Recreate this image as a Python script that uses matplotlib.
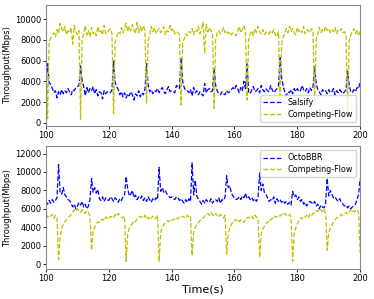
import numpy as np
import matplotlib
matplotlib.use('Agg')
import matplotlib.pyplot as plt

# sampled every 0.5 s from 100 s to 200 s (10 values per row = 5 s)
salsify = [
    3500, 5700, 3900, 3700, 3300, 2900, 3100, 2400, 3000, 2700,
    3200, 2800, 3100, 2900, 3300, 3000, 2700, 3200, 3100, 3400,
    3500, 3600, 5500, 4100, 3500, 2600, 3400, 2900, 3300, 3100,
    3500, 2800, 3200, 2600, 3000, 2900, 2300, 3100, 2800, 3000,
    3000, 2900, 3200, 6000, 3900, 3500, 3200, 2700, 3000, 2500,
    2900, 2400, 2800, 2600, 3000, 2700, 2200, 2800, 2600, 3100,
    2500, 2900, 2700, 3300, 5700, 3700, 3000, 3200, 2800, 3100,
    3000, 3300, 2900, 3200, 3400, 3000, 2800, 3200, 3500, 3000,
    3100, 3000, 2900, 3600, 3500, 3300, 6300, 4000, 3400, 3100,
    3100, 2900, 3200, 2600, 3400, 2900, 3100, 2700, 3000, 2800,
    2600, 3800, 2900, 3200, 3300, 3000, 3100, 5300, 3600, 3100,
    2800, 2700, 3000, 2800, 2700, 3100, 2900, 3000, 3200, 3400,
    3200, 3600, 3300, 2900, 3400, 3100, 4000, 3300, 5700, 3000,
    2800, 3200, 3500, 3000, 3100, 3300, 2900, 3600, 3200, 3000,
    3300, 3100, 3000, 3600, 3200, 2900, 3100, 3300, 3500, 6300,
    4400, 3500, 3000, 2600, 3000, 2900, 3200, 2800, 3300, 3000,
    3300, 3000, 3100, 3600, 3200, 3000, 3300, 2900, 3400, 3100,
    3500, 5400, 3800, 3200, 3000, 2700, 3200, 3000, 3100, 2800,
    3200, 2900, 3000, 3300, 2700, 3100, 2900, 3200, 3000, 2800,
    3000, 3200, 5000, 3700, 3000, 2900, 3200, 3000, 3400, 3300,
    4000]

competing_top = [
    7600, 400, 7800, 8200, 8400, 8700, 8300, 9000, 8600, 9600,
    9100, 8800, 9300, 8500, 8900, 8700, 9200, 7600, 9400, 8800,
    8500, 8900, 300, 8000, 8600, 9400, 8500, 8900, 8300, 9200,
    8600, 8800, 8400, 9300, 8700, 8900, 8500, 9400, 8600, 8800,
    8900, 9100, 8600, 900, 7700, 8400, 8800, 8600, 9200, 8700,
    9000, 9600, 8800, 9300, 8900, 9500, 9000, 8600, 9700, 8700,
    9300, 8800, 9400, 8900, 1900, 7900, 8400, 9300, 8800, 9200,
    8600, 8900, 9100, 8700, 9000, 9300, 8500, 8900, 8800, 9400,
    8900, 9100, 8600, 8800, 8700, 8500, 1700, 7800, 8100, 8600,
    8400, 8800, 8700, 9100, 8500, 9000, 8800, 9300, 8600, 9000,
    9700, 6700, 9500, 8800, 9200, 8900, 8700, 1400, 8000, 8700,
    8900, 8600, 8800, 9200, 8700, 8900, 8600, 8800, 8500, 8700,
    8600, 8400, 8800, 9300, 8700, 9000, 9400, 8800, 2200, 8000,
    8600, 8900, 8400, 9100, 8700, 9300, 8800, 8600, 9000, 8500,
    8700, 8800, 8600, 8900, 8700, 9000, 8500, 8300, 8800, 2600,
    7600, 8300, 8600, 9100, 8700, 9300, 8800, 9100, 8700, 8500,
    9200, 8800, 9000, 8700, 9300, 8600, 9000, 8900, 8700, 9100,
    8800, 1900, 8100, 8600, 9200, 8700, 9000, 8800, 9300, 8900,
    9100, 8700, 9000, 8800, 9200, 8600, 9000, 8900, 9100, 8700,
    8800, 8500, 700, 7900, 8500, 8800, 9100, 8600, 9000, 8400,
    8800]

octobbr = [
    6800, 6500, 6900, 6600, 7000, 6700, 6900, 7200, 10800, 7700,
    7600, 8300, 7500, 7300, 7000, 6900, 6600, 6200, 6500, 6000,
    6300, 6700, 6400, 6800, 6200, 6500, 6000, 6300, 7000, 9300,
    7800, 8300, 7700, 8100, 7100, 6900, 7300, 6800, 7200, 7000,
    6900, 7300, 7100, 6800, 7200, 7000, 6700, 7100, 6900, 7300,
    7500, 9500, 8200, 7400, 7600, 8000, 7200, 7500, 7000, 7300,
    7100, 7400, 6900, 7200, 6800, 7300, 7000, 6700, 7100, 6900,
    7200, 7000, 10500, 7900, 8300, 7800, 8000, 7600, 7400, 7200,
    7300, 7100, 7000, 7300, 7200, 6900, 7100, 6800, 6600, 7000,
    6700, 7100, 6800, 11000, 7500, 9100, 7400, 7000, 6800, 6500,
    6900, 6600, 7000, 6800, 6700, 7100, 6600, 6900, 7000, 6800,
    7200, 6600, 7000, 6900, 7300, 9600, 8300, 8500, 7700, 7400,
    7200, 7000, 7100, 7300, 7000, 7400, 7200, 7700, 7100, 7300,
    7000, 7200, 6900, 7100, 6800, 7300, 9900, 8000, 8700, 7800,
    7600, 7200, 6800, 7000, 6900, 7300, 6600, 7100, 6800, 7000,
    6700, 6900, 6600, 6800, 6500, 6700, 6400, 7900, 7300, 7500,
    7000, 7300, 6800, 7000, 6500, 6700, 6300, 6600, 6800, 6700,
    6500, 6800, 6300, 6500, 6000, 6400, 6200, 6100, 6600, 9300,
    7400, 8000, 7600, 7200, 7300, 7000, 6800, 7100, 6700, 6500,
    6300, 6400, 6100, 6300, 6000, 6200, 6300, 6500, 7000, 7600,
    9300]

competing_bottom = [
    5400, 5100, 5300, 5200, 5400, 5000, 5300, 5100, 500, 2900,
    3800, 4300, 4600, 4800, 5000, 5200, 5400, 5600, 5900, 5700,
    6000, 5800, 5600, 5900, 5700, 5500, 5800, 5600, 5200, 1500,
    3600, 4000, 4300, 4600, 4500, 4800, 4900, 4700, 5100, 5000,
    4900, 5200, 5100, 5000, 5400, 5200, 5500, 5300, 5100, 5000,
    5200, 300, 3200, 3900, 4200, 4400, 4700, 4600, 4900, 5000,
    5200, 5100, 5000, 5300, 4900, 5100, 4800, 5000, 5200, 4900,
    5000, 5300, 300, 3400, 4000, 4300, 4500, 4700, 4600, 4800,
    4700, 4900, 4800, 5000, 4900, 5100, 5000, 5200, 5100, 5000,
    5300, 5100, 5200, 900, 3500, 4000, 4300, 4500, 4700, 4900,
    5000, 5200, 5400, 5500, 5300, 5600, 5400, 5200, 5500, 5300,
    5100, 5400, 5200, 5000, 5300, 1000, 3300, 3900, 4300, 4600,
    4800, 4700, 4900, 4600, 4800, 4700, 4500, 4900, 5000, 5100,
    5000, 5200, 4900, 5300, 5100, 5000, 700, 3300, 3800, 4100,
    4300, 4600, 4500, 4800, 5000, 4900, 5200, 5100, 5300, 5200,
    5400, 5300, 5500, 5300, 5200, 5400, 5100, 300, 3300, 3900,
    4400, 4700, 5000, 4900, 5200, 5100, 5300, 5000, 5400, 5200,
    5500, 5600, 5800, 5700, 6000, 5900, 5700, 6000, 5500, 1500,
    3400, 3900, 4200, 4600, 4800, 5000, 5100, 5200, 5400, 5300,
    5500, 5600, 5400, 5700, 5900, 5600, 5800, 5700, 5900, 5600,
    1200]

time = np.arange(100, 200.25, 0.5)

fig = plt.figure(figsize=(3.74, 2.99), dpi=100)
ax1 = fig.add_axes([0.123, 0.579, 0.840, 0.405])
ax2 = fig.add_axes([0.123, 0.100, 0.840, 0.411])

ax1.plot(time, salsify, '--', color='blue', lw=0.9, label='Salsify')
ax1.plot(time, competing_top, '--', color='#bfbf00', lw=0.9, label='Competing-Flow')
ax1.set_ylim(-300, 11400)
ax1.set_yticks([0, 2000, 4000, 6000, 8000, 10000])
ax1.legend(loc='lower right', fontsize=5.8, handlelength=2.2, borderpad=0.4, labelspacing=0.3)

ax2.plot(time, octobbr, '--', color='blue', lw=0.9, label='OctoBBR')
ax2.plot(time, competing_bottom, '--', color='#bfbf00', lw=0.9, label='Competing-Flow')
ax2.set_ylim(-550, 12800)
ax2.set_yticks([0, 2000, 4000, 6000, 8000, 10000, 12000])
ax2.legend(loc='upper right', fontsize=5.8, handlelength=2.2, borderpad=0.4, labelspacing=0.3)
ax2.set_xlabel('Time(s)', fontsize=8, labelpad=1)

for ax in (ax1, ax2):
    ax.set_xlim(100, 200)
    ax.set_xticks([100, 120, 140, 160, 180, 200])
    ax.tick_params(labelsize=6, length=2, width=0.6, pad=1.5)
    ax.set_ylabel('Throughput(Mbps)', fontsize=6, labelpad=2)
    for s in ax.spines.values():
        s.set_color('#888888')
        s.set_linewidth(0.8)

fig.savefig('out.png', dpi=100)
